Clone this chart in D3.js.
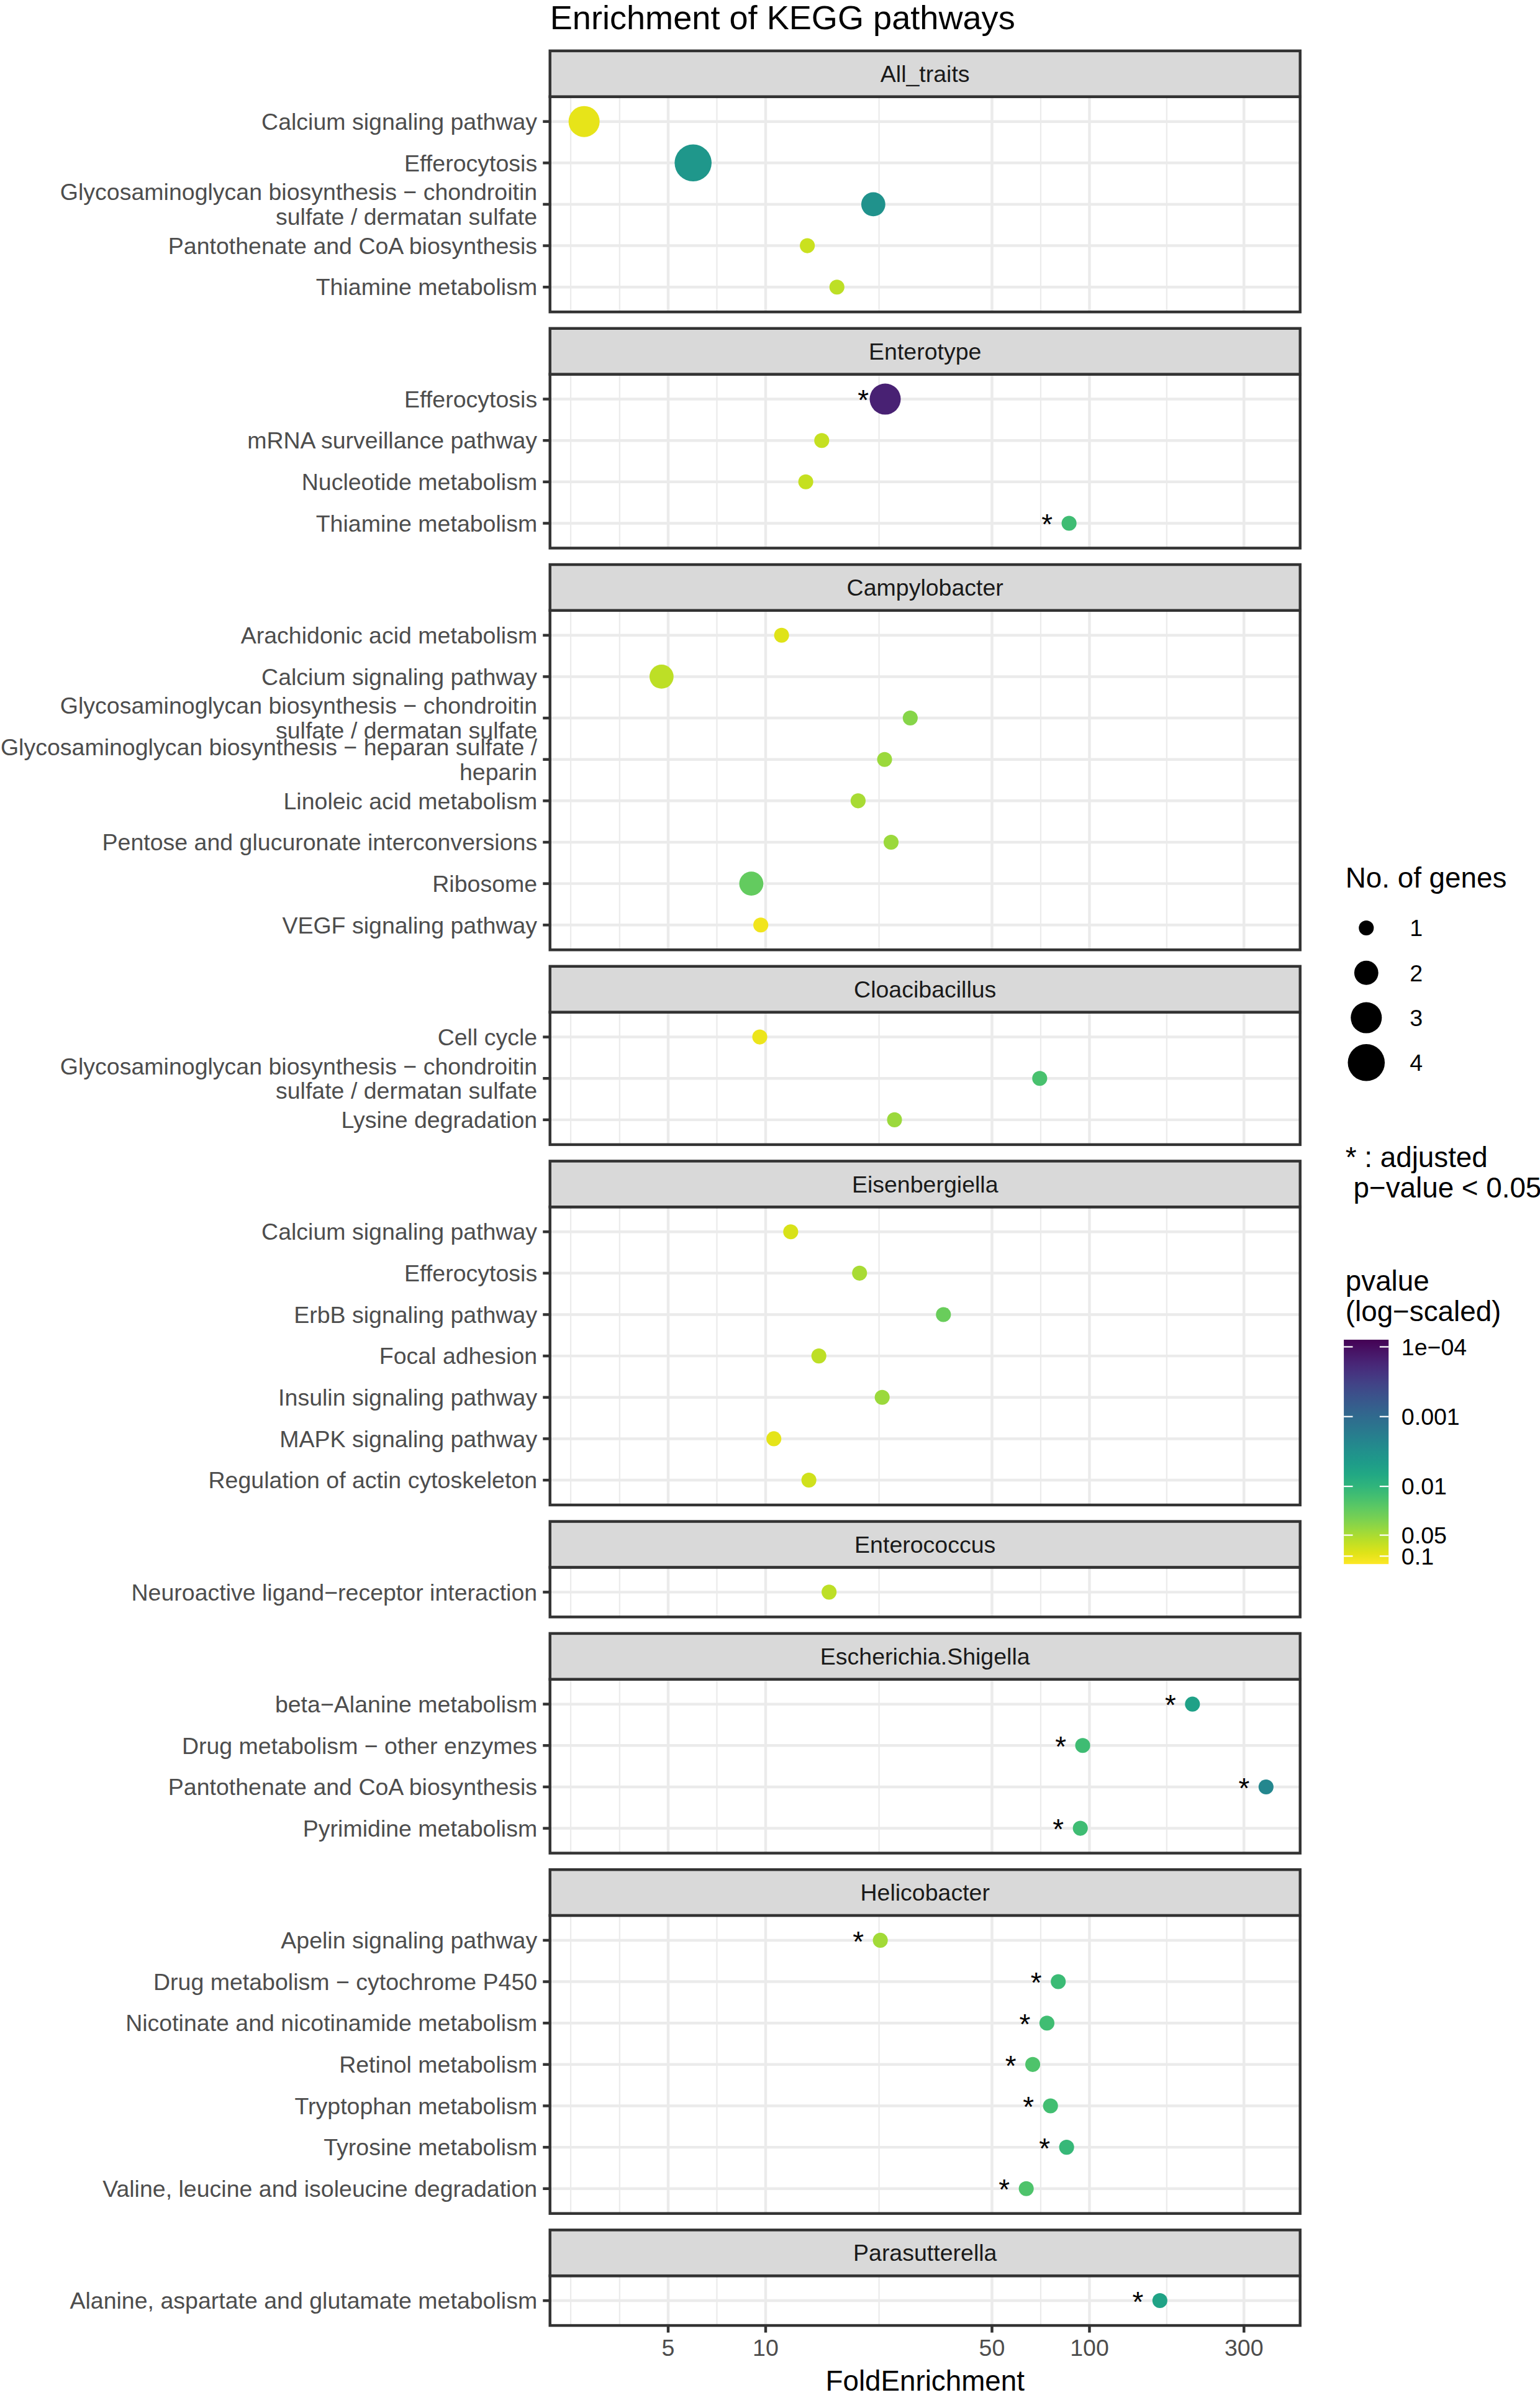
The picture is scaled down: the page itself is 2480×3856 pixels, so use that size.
<!DOCTYPE html>
<html>
<head>
<meta charset="utf-8">
<script src="https://cdn.jsdelivr.net/npm/d3@7"></script>
<style>
    body { margin: 0; background: #fff; }
    text { font-family: "Liberation Sans", Arial, Helvetica, sans-serif; }
</style>
</head>
<body>
<svg id="CANVAS"></svg>
<script>

    // ---- data ----
    var facets = ["All_traits", "Enterotype", "Campylobacter", "Cloacibacillus", "Eisenbergiella",
        "Enterococcus", "Escherichia.Shigella", "Helicobacter", "Parasutterella"];

    var rowFacet = [
        "All_traits", "All_traits", "All_traits", "All_traits", "All_traits",
        "Enterotype", "Enterotype", "Enterotype", "Enterotype",
        "Campylobacter", "Campylobacter", "Campylobacter", "Campylobacter", "Campylobacter", "Campylobacter", "Campylobacter", "Campylobacter",
        "Cloacibacillus", "Cloacibacillus", "Cloacibacillus",
        "Eisenbergiella", "Eisenbergiella", "Eisenbergiella", "Eisenbergiella", "Eisenbergiella", "Eisenbergiella", "Eisenbergiella",
        "Enterococcus",
        "Escherichia.Shigella", "Escherichia.Shigella", "Escherichia.Shigella", "Escherichia.Shigella",
        "Helicobacter", "Helicobacter", "Helicobacter", "Helicobacter", "Helicobacter", "Helicobacter", "Helicobacter",
        "Parasutterella"];

    var pathway = [
        "Calcium signaling pathway", "Efferocytosis",
        "Glycosaminoglycan biosynthesis \u2212 chondroitin\nsulfate / dermatan sulfate",
        "Pantothenate and CoA biosynthesis", "Thiamine metabolism",
        "Efferocytosis", "mRNA surveillance pathway", "Nucleotide metabolism", "Thiamine metabolism",
        "Arachidonic acid metabolism", "Calcium signaling pathway",
        "Glycosaminoglycan biosynthesis \u2212 chondroitin\nsulfate / dermatan sulfate",
        "Glycosaminoglycan biosynthesis \u2212 heparan sulfate /\nheparin",
        "Linoleic acid metabolism", "Pentose and glucuronate interconversions", "Ribosome", "VEGF signaling pathway",
        "Cell cycle", "Glycosaminoglycan biosynthesis \u2212 chondroitin\nsulfate / dermatan sulfate", "Lysine degradation",
        "Calcium signaling pathway", "Efferocytosis", "ErbB signaling pathway", "Focal adhesion",
        "Insulin signaling pathway", "MAPK signaling pathway", "Regulation of actin cytoskeleton",
        "Neuroactive ligand\u2212receptor interaction",
        "beta\u2212Alanine metabolism", "Drug metabolism \u2212 other enzymes", "Pantothenate and CoA biosynthesis", "Pyrimidine metabolism",
        "Apelin signaling pathway", "Drug metabolism \u2212 cytochrome P450", "Nicotinate and nicotinamide metabolism",
        "Retinol metabolism", "Tryptophan metabolism", "Tyrosine metabolism", "Valine, leucine and isoleucine degradation",
        "Alanine, aspartate and glutamate metabolism"];

    var foldEnrichment = [
        2.75, 5.97, 21.5, 13.45, 16.6,
        23.4, 14.9, 13.3, 86.5,
        11.2, 4.77, 27.96, 23.3, 19.3, 24.4, 9.03, 9.66,
        9.59, 70.2, 25.0,
        11.95, 19.5, 35.4, 14.6, 22.9, 10.6, 13.6,
        15.7,
        208, 95.3, 351, 93.7,
        22.6, 80.1, 73.9, 66.8, 75.8, 85, 63.8,
        165];

    var geneCount = [
        3, 4, 2, 1, 1,
        3, 1, 1, 1,
        1, 2, 1, 1, 1, 1, 2, 1,
        1, 1, 1,
        1, 1, 1, 1, 1, 1, 1,
        1,
        1, 1, 1, 1,
        1, 1, 1, 1, 1, 1, 1,
        1];

    var pValue = [
        0.10, 0.004, 0.0033, 0.072, 0.062,
        0.000155, 0.067, 0.068, 0.013,
        0.09, 0.062, 0.034, 0.043, 0.05, 0.043, 0.022, 0.11,
        0.105, 0.0152, 0.043,
        0.083, 0.05, 0.024, 0.062, 0.043, 0.097, 0.077,
        0.062,
        0.0055, 0.013, 0.0024, 0.013,
        0.046, 0.0122, 0.0134, 0.0164, 0.014, 0.0113, 0.0164,
        0.0058];

    // adjusted p-value < 0.05
    var significant = [
        0, 0, 0, 0, 0,
        1, 0, 0, 1,
        0, 0, 0, 0, 0, 0, 0, 0,
        0, 0, 0,
        0, 0, 0, 0, 0, 0, 0,
        0,
        1, 1, 1, 1,
        1, 1, 1, 1, 1, 1, 1,
        1];

    var xBreaks = [5, 10, 50, 100, 300];
    var xMinorBreaks = [2.5, 3.54, 7.07, 22.4, 70.7, 173.2];
    var sizeBreaks = [1, 2, 3, 4];
    var pLimits = [0.000079, 0.13];
    var pBreaks = [0.0001, 0.001, 0.01, 0.05, 0.1];
    var pBreakLabels = ["1e\u221204", "0.001", "0.01", "0.05", "0.1"];

    // ---- layout (drawing units, scaled to 2480x3856) ----
    var W = 1008, H = 1568;
    var LEFT = 360, RIGHT = 851;
    var TOP = 33.3, STRIP_H = 30, GAP = 10.8, UNIT = 27.1;
    var GRID = "#EBEBEB", DARK = "#333333", LW = 1.81;
    var AXIS_FS = 15.25, TITLE_FS = 18.6;

    var svg = d3.select("#CANVAS")
        .attr("width", 2480).attr("height", 3856)
        .attr("viewBox", "0 0 " + W + " " + H)
        .attr("preserveAspectRatio", "none");

    svg.append("rect").attr("width", W).attr("height", H).attr("fill", "#fff");

    var rows = pathway.map(function (d, i) {
        return { facet: rowFacet[i], label: d, fe: foldEnrichment[i], n: geneCount[i], p: pValue[i], sig: significant[i], key: i };
    });

    var lo = Math.log10(d3.min(foldEnrichment)), hi = Math.log10(d3.max(foldEnrichment));
    var pad = (hi - lo) * 0.05;
    var x = d3.scaleLog()
        .domain([Math.pow(10, lo - pad), Math.pow(10, hi + pad)])
        .range([LEFT, RIGHT]);

    var r = d3.scalePow().exponent(0.5).domain([1, 4]).range([4.9, 12.1]);

    var tLo = -Math.log10(pLimits[1]), tHi = -Math.log10(pLimits[0]);
    function pColor(p) {
        var s = (-Math.log10(p) - tLo) / (tHi - tLo);
        return d3.interpolateViridis(1 - Math.max(0, Math.min(1, s)));
    }

    // title
    svg.append("text")
        .attr("x", LEFT).attr("y", 19)
        .attr("font-size", 22.0).attr("fill", "#000")
        .text("Enrichment of KEGG pathways");

    var yPos = TOP;
    var lastBottom = 0;

    facets.forEach(function (f) {
        var data = rows.filter(function (d) { return d.facet === f; });
        var stripTop = yPos;
        var panelTop = stripTop + STRIP_H;
        var panelH = (data.length - 1 + 1.2) * UNIT;
        var panelBottom = panelTop + panelH;

        var y = d3.scalePoint()
            .domain(data.map(function (d) { return d.key; }))
            .range([panelTop, panelBottom])
            .padding(0.6);

        var g = svg.append("g");

        // panel background
        g.append("rect")
            .attr("x", LEFT).attr("y", panelTop)
            .attr("width", RIGHT - LEFT).attr("height", panelH)
            .attr("fill", "#fff");

        // grid
        g.selectAll("line.minor").data(xMinorBreaks).enter().append("line")
            .attr("x1", function (d) { return x(d); }).attr("x2", function (d) { return x(d); })
            .attr("y1", panelTop).attr("y2", panelBottom)
            .attr("stroke", GRID).attr("stroke-width", LW / 2);

        g.selectAll("line.vmajor").data(xBreaks).enter().append("line")
            .attr("x1", function (d) { return x(d); }).attr("x2", function (d) { return x(d); })
            .attr("y1", panelTop).attr("y2", panelBottom)
            .attr("stroke", GRID).attr("stroke-width", LW);

        g.selectAll("line.hmajor").data(data).enter().append("line")
            .attr("x1", LEFT).attr("x2", RIGHT)
            .attr("y1", function (d) { return y(d.key); }).attr("y2", function (d) { return y(d.key); })
            .attr("stroke", GRID).attr("stroke-width", LW);

        // points
        g.selectAll("circle.pt").data(data).enter().append("circle")
            .attr("cx", function (d) { return x(d.fe); })
            .attr("cy", function (d) { return y(d.key); })
            .attr("r", function (d) { return r(d.n); })
            .attr("fill", function (d) { return pColor(d.p); });

        // significance stars
        g.selectAll("text.star").data(data.filter(function (d) { return d.sig; })).enter().append("text")
            .attr("x", function (d) { return x(d.fe * 0.855); })
            .attr("y", function (d) { return y(d.key) + 7.2; })
            .attr("text-anchor", "middle")
            .attr("font-size", 18.6).attr("fill", "#000")
            .text("*");

        // panel border
        g.append("rect")
            .attr("x", LEFT).attr("y", panelTop)
            .attr("width", RIGHT - LEFT).attr("height", panelH)
            .attr("fill", "none").attr("stroke", DARK).attr("stroke-width", LW);

        // strip
        g.append("rect")
            .attr("x", LEFT).attr("y", stripTop)
            .attr("width", RIGHT - LEFT).attr("height", STRIP_H)
            .attr("fill", "#D9D9D9").attr("stroke", DARK).attr("stroke-width", LW);
        g.append("text")
            .attr("x", (LEFT + RIGHT) / 2).attr("y", stripTop + STRIP_H / 2 + 5.4)
            .attr("text-anchor", "middle")
            .attr("font-size", AXIS_FS).attr("fill", "#1A1A1A")
            .text(f);

        // y axis ticks + labels
        g.selectAll("line.ytick").data(data).enter().append("line")
            .attr("x1", LEFT - 4.66).attr("x2", LEFT)
            .attr("y1", function (d) { return y(d.key); }).attr("y2", function (d) { return y(d.key); })
            .attr("stroke", DARK).attr("stroke-width", LW);

        var lab = g.selectAll("text.ylab").data(data).enter().append("text")
            .attr("text-anchor", "end")
            .attr("font-size", AXIS_FS).attr("fill", "#4D4D4D");
        lab.each(function (d) {
            var lines = d.label.split("\n");
            var t = d3.select(this);
            lines.forEach(function (ln, i) {
                t.append("tspan")
                    .attr("x", LEFT - 4.66 - 3.7)
                    .attr("y", y(d.key) + 5.4 + (i - (lines.length - 1) / 2) * 16.2)
                    .text(ln);
            });
        });

        lastBottom = panelBottom;
        yPos = panelBottom + GAP;
    });

    // x axis (bottom panel only)
    var ax = svg.append("g");
    ax.selectAll("line").data(xBreaks).enter().append("line")
        .attr("x1", function (d) { return x(d); }).attr("x2", function (d) { return x(d); })
        .attr("y1", lastBottom).attr("y2", lastBottom + 4.66)
        .attr("stroke", DARK).attr("stroke-width", LW);
    ax.selectAll("text").data(xBreaks).enter().append("text")
        .attr("x", function (d) { return x(d); })
        .attr("y", lastBottom + 20)
        .attr("text-anchor", "middle")
        .attr("font-size", AXIS_FS).attr("fill", "#4D4D4D")
        .text(function (d) { return d; });
    svg.append("text")
        .attr("x", (LEFT + RIGHT) / 2).attr("y", 1565)
        .attr("text-anchor", "middle")
        .attr("font-size", TITLE_FS).attr("fill", "#000")
        .text("FoldEnrichment");

    // ---- legends ----
    var LX = 880.7;
    var leg = svg.append("g");

    leg.append("text").attr("x", LX).attr("y", 581)
        .attr("font-size", TITLE_FS).attr("fill", "#000").text("No. of genes");

    var keyY = d3.scaleLinear().domain([1, 4]).range([607.5, 695.7]);
    leg.selectAll("circle").data(sizeBreaks).enter().append("circle")
        .attr("cx", 894.3).attr("cy", function (d) { return keyY(d); })
        .attr("r", function (d) { return r(d); })
        .attr("fill", "#000");
    leg.selectAll("text.sz").data(sizeBreaks).enter().append("text")
        .attr("x", 922.8).attr("y", function (d) { return keyY(d) + 5.4; })
        .attr("font-size", AXIS_FS).attr("fill", "#000")
        .text(function (d) { return d; });

    leg.append("text").attr("x", LX).attr("y", 764)
        .attr("font-size", TITLE_FS).attr("fill", "#000")
        .style("white-space", "pre").text("* : adjusted");
    leg.append("text").attr("x", LX).attr("y", 784)
        .attr("font-size", TITLE_FS).attr("fill", "#000")
        .style("white-space", "pre").text(" p\u2212value < 0.05");

    leg.append("text").attr("x", LX).attr("y", 845)
        .attr("font-size", TITLE_FS).attr("fill", "#000").text("pvalue");
    leg.append("text").attr("x", LX).attr("y", 865)
        .attr("font-size", TITLE_FS).attr("fill", "#000").text("(log\u2212scaled)");

    // colour bar
    var BX0 = 879.6, BX1 = 908.9, BY0 = 877.1, BY1 = 1024;
    var grad = svg.append("defs").append("linearGradient")
        .attr("id", "viridisBar").attr("x1", 0).attr("y1", 0).attr("x2", 0).attr("y2", 1);
    d3.range(0, 1.0001, 0.05).forEach(function (o) {
        grad.append("stop").attr("offset", o).attr("stop-color", d3.interpolateViridis(o));
    });
    leg.append("rect")
        .attr("x", BX0).attr("y", BY0)
        .attr("width", BX1 - BX0).attr("height", BY1 - BY0)
        .attr("fill", "url(#viridisBar)");

    var cy = d3.scaleLinear().domain([tLo, tHi]).range([BY1, BY0]);
    var tickLen = (BX1 - BX0) / 5;
    pBreaks.forEach(function (p, i) {
        var yy = cy(-Math.log10(p));
        leg.append("line").attr("x1", BX0).attr("x2", BX0 + tickLen)
            .attr("y1", yy).attr("y2", yy).attr("stroke", "#fff").attr("stroke-width", 0.9);
        leg.append("line").attr("x1", BX1 - tickLen).attr("x2", BX1)
            .attr("y1", yy).attr("y2", yy).attr("stroke", "#fff").attr("stroke-width", 0.9);
        leg.append("text").attr("x", 917.3).attr("y", yy + 5.4)
            .attr("font-size", AXIS_FS).attr("fill", "#000")
            .text(pBreakLabels[i]);
    });

</script>
</body>
</html>
